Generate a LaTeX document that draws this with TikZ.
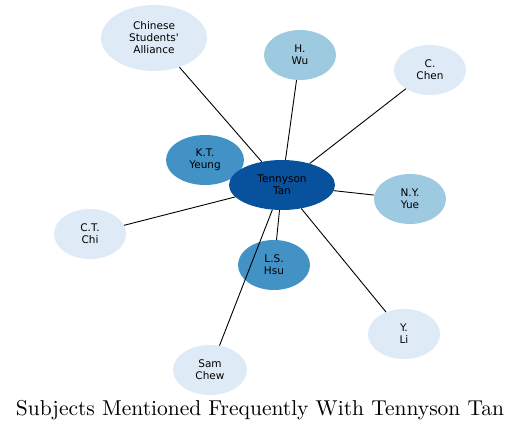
\documentclass[tikz,border=0pt]{standalone}
\usepackage{fontspec}
\newfontfamily\nodefont{DejaVu Sans}
\newfontfamily\titlefont{lmroman10-regular}[Extension=.otf]
\usetikzlibrary{shapes.geometric}
\definecolor{bA}{HTML}{DEEBF7}
\definecolor{bB}{HTML}{9ECAE1}
\definecolor{bC}{HTML}{4292C6}
\definecolor{bD}{HTML}{08519C}
\begin{document}
\begin{tikzpicture}[x=1pt,y=-1pt,
  nd/.style={ellipse,inner sep=0pt,minimum width=72pt,minimum height=50pt,
    font=\nodefont\fontsize{10.5}{12}\selectfont,align=center,text=black},
  edge/.style={draw=black,line width=0.9pt}]
\useasboundingbox (0,0) rectangle (521,431);
\node[nd,fill=bA,minimum width=106pt,minimum height=66pt] (csa) at (154,38) {Chinese\\Students'\\Alliance};
\node[nd,fill=bB] (wu) at (300,55) {H.\\Wu};
\node[nd,fill=bA] (chen) at (430,70) {C.\\Chen};
\node[nd,fill=bC,minimum width=78pt] (yeung) at (205,160) {K.T.\\Yeung};
\node[nd,fill=bD,minimum width=106pt] (tan) at (282,185) {Tennyson\\Tan};
\node[nd,fill=bB] (yue) at (410,199) {N.Y.\\Yue};
\node[nd,fill=bA] (chi) at (90,234) {C.T.\\Chi};
\node[nd,fill=bC] (hsu) at (274,265) {L.S.\\Hsu};
\node[nd,fill=bA] (li) at (404,334) {Y.\\Li};
\node[nd,fill=bA,minimum width=74pt] (chew) at (210,370) {Sam\\Chew};
\foreach \t in {csa,wu,chen,yue,chi,hsu,li,chew}
  \draw[edge] (tan) -- (\t);
\node[font=\titlefont\fontsize{21.5}{25}\selectfont] (title) at (260,410) {Subjects Mentioned Frequently With Tennyson Tan};
\end{tikzpicture}
\end{document}
